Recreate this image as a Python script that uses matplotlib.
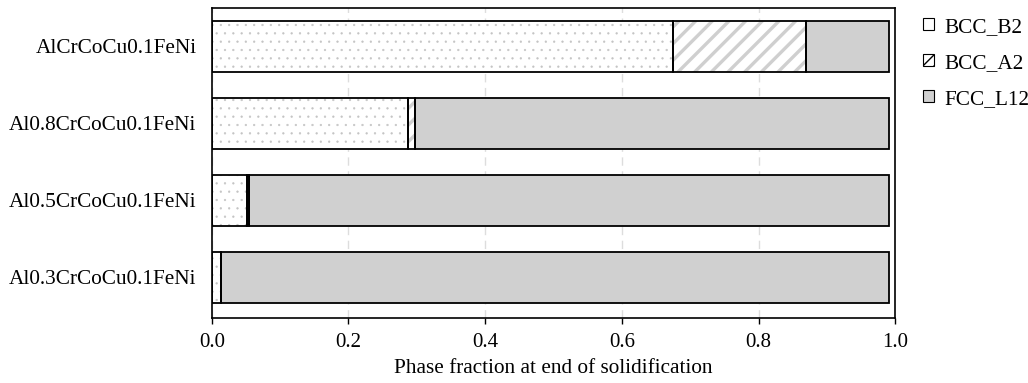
import matplotlib
matplotlib.use("Agg")
import matplotlib.pyplot as plt
import numpy as np
from matplotlib.patches import Patch

plt.rcParams['font.family'] = ['Liberation Serif', 'DejaVu Serif']

alloys = ['Al0.3CrCoCu0.1FeNi', 'Al0.5CrCoCu0.1FeNi',
          'Al0.8CrCoCu0.1FeNi', 'AlCrCoCu0.1FeNi']
bcc_b2 = [0.014, 0.051, 0.287, 0.675]
bcc_a2 = [0.000, 0.003, 0.011, 0.194]
fcc_l12 = [0.977, 0.937, 0.693, 0.122]

phases = ['BCC_B2', 'BCC_A2', 'FCC_L12']
faces = ['white', 'white', '#d0d0d0']
hatches = ['..', '//', None]
hatch_col = ['#c4c4c4', '#cfcfcf', '#d0d0d0']
hatch_lw = [0.4, 2.4, 1.0]

fig, ax = plt.subplots(figsize=(10.28, 3.83), dpi=100)
fig.subplots_adjust(left=0.206, right=0.871, top=0.979, bottom=0.17)

y = np.arange(len(alloys))
h = 0.66
left = np.zeros(len(alloys))
for vals, fc, ht, hc, hl in zip([bcc_b2, bcc_a2, fcc_l12], faces, hatches, hatch_col, hatch_lw):
    vals = np.array(vals)
    with plt.rc_context({'hatch.linewidth': hl}):
        bars = ax.barh(y, vals, h, left=left, color=fc, hatch=ht, edgecolor=hc,
                       linewidth=0, zorder=2)
    for b in bars:
        if hasattr(b, 'set_hatch_linewidth'):
            b.set_hatch_linewidth(hl)
    ax.barh(y, vals, h, left=left, fill=False, edgecolor='black', linewidth=1.3, zorder=3)
    left += vals

ax.set_xlim(0, 1.0)
ax.set_ylim(-0.53, 3.5)
ax.set_yticks(y)
ax.set_yticklabels(alloys, fontsize=15.3)
ax.set_xticks([0, 0.2, 0.4, 0.6, 0.8, 1.0])
ax.set_xticklabels(['0.0', '0.2', '0.4', '0.6', '0.8', '1.0'], fontsize=15)
ax.tick_params(axis='y', length=0, pad=11)
ax.tick_params(axis='x', length=4, width=1, pad=7)
ax.xaxis.grid(True, linestyle=(0, (6, 4)), color='#dddddd', linewidth=1, zorder=0)
ax.set_axisbelow(True)
for s in ax.spines.values():
    s.set_linewidth(1.2)
ax.set_xlabel('Phase fraction at end of solidification', fontsize=15.3, labelpad=5)

handles = []
for fc, hb in zip(faces, [None, '///', None]):
    handles.append(Patch(facecolor=fc, edgecolor='black', hatch=hb, linewidth=0.8))
ax.legend(handles, phases, loc='upper left', bbox_to_anchor=(1.013, 1.03),
          frameon=False, fontsize=15.3, handlelength=0.5, handleheight=0.5,
          handletextpad=0.5, labelspacing=0.8)

fig.savefig('out.png', dpi=100)
